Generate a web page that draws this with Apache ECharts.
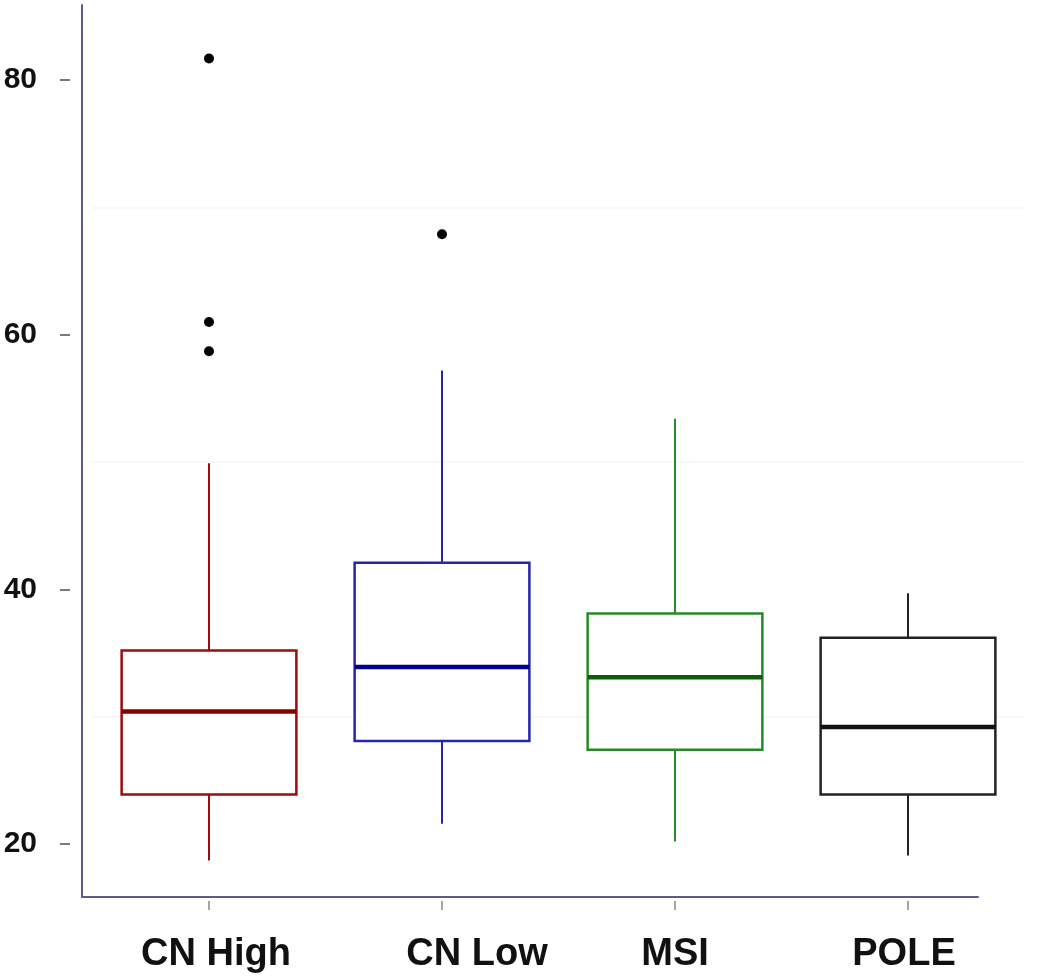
<!DOCTYPE html>
<html>
<head>
<meta charset="utf-8">
<script src="https://cdn.jsdelivr.net/npm/echarts@6/dist/echarts.min.js"></script>
<style>
  html, body { margin: 0; padding: 0; background: #fff; }
  #chart { width: 1050px; height: 978px; }
</style>
</head>
<body>
<div id="chart"></div>
<script>
// ---- data ----
const categories = ['CN High', 'CN Low', 'MSI', 'POLE'];
// [low whisker, Q1, median, Q3, high whisker]
const lowWhisker  = [18.7, 21.6, 20.2, 19.1];
const q1Values    = [23.9, 28.1, 27.4, 23.9];
const medians     = [30.4, 33.9, 33.1, 29.2];
const q3Values    = [35.2, 42.1, 38.1, 36.2];
const highWhisker = [49.9, 57.2, 53.4, 39.7];
const outliers = [
  ['CN High', 81.7], ['CN High', 61.0], ['CN High', 58.7],
  ['CN Low', 67.9]
];
const yTickValues = [20, 40, 60, 80];
const gridValues = [30, 50, 70];

// ---- styles ----
const boxColors = ['#9e0b0b', '#2626ad', '#268a26', '#222222'];
const medianColors = ['#870000', '#00008b', '#0a5e0a', '#111111'];
const labelShift = [7, 35, 0, -4]; // horizontal nudge of each x label, px
const Y_MIN = 15.84, Y_MAX = 85.9;
const FONT = '"Liberation Sans", Arial, Helvetica, sans-serif';

const boxData = categories.map((c, i) => [i, lowWhisker[i], q1Values[i], medians[i], q3Values[i], highWhisker[i]]);

const richStyles = {};
labelShift.forEach((s, i) => {
  richStyles['l' + i] = {
    fontFamily: FONT, fontWeight: 'bold', fontSize: 38, color: '#111',
    padding: s >= 0 ? [0, 0, 0, 2 * s] : [0, -2 * s, 0, 0]
  };
});

const chart = echarts.init(document.getElementById('chart'), null, { renderer: 'canvas' });

chart.setOption({
  backgroundColor: '#ffffff',
  animation: false,
  grid: [
    { left: 92.5, right: 25.5, top: 5, bottom: 81 },
    { left: 82, right: 72, top: 5, bottom: 81 }
  ],
  xAxis: [
    {
      type: 'category', gridIndex: 0, data: categories, boundaryGap: true,
      offset: 4,
      axisLine: { show: false },
      axisTick: { show: true, interval: 0, alignWithLabel: true, length: 9, lineStyle: { color: '#888', width: 1.5 } },
      axisLabel: {
        interval: 0, hideOverlap: false,
        margin: 35, fontFamily: FONT, fontWeight: 'bold', fontSize: 38, color: '#111',
        formatter: function (v, i) { return '{l' + i + '|' + v + '}'; },
        rich: richStyles
      },
      splitLine: { show: false }
    },
    {
      type: 'value', gridIndex: 1, min: 0, max: 1,
      axisLine: { show: true, lineStyle: { color: '#5b5b8f', width: 2 } },
      axisTick: { show: false }, axisLabel: { show: false }, splitLine: { show: false }
    }
  ],
  yAxis: [
    {
      type: 'value', gridIndex: 0, min: Y_MIN, max: Y_MAX,
      offset: 22.5,
      axisLine: { show: false },
      axisTick: { show: true, length: 10, customValues: yTickValues, lineStyle: { color: '#7a7a7a', width: 2 } },
      axisLabel: { customValues: yTickValues, margin: 33, fontFamily: FONT, fontWeight: 'bold', fontSize: 30, color: '#111' },
      splitLine: { show: false }
    },
    {
      type: 'value', gridIndex: 1, min: Y_MIN, max: Y_MAX,
      axisLine: { show: true, lineStyle: { color: '#5b5b8f', width: 2 } },
      axisTick: { show: false }, axisLabel: { show: false }, splitLine: { show: false }
    }
  ],
  series: [
    {
      type: 'custom',
      xAxisIndex: 0, yAxisIndex: 0,
      data: boxData,
      z: 5,
      renderItem: function (params, api) {
        const idx = api.value(0);
        const low = api.coord([idx, api.value(1)]);
        const q1 = api.coord([idx, api.value(2)]);
        const med = api.coord([idx, api.value(3)]);
        const q3 = api.coord([idx, api.value(4)]);
        const high = api.coord([idx, api.value(5)]);
        const bw = api.size([1, 0])[0] * 0.75;
        const cx = med[0];
        const col = boxColors[params.dataIndex];
        const mcol = medianColors[params.dataIndex];
        return {
          type: 'group',
          children: [
            { type: 'line', shape: { x1: cx, y1: high[1], x2: cx, y2: q3[1] }, style: { stroke: col, lineWidth: 2 } },
            { type: 'line', shape: { x1: cx, y1: q1[1], x2: cx, y2: low[1] }, style: { stroke: col, lineWidth: 2 } },
            { type: 'rect', shape: { x: cx - bw / 2, y: q3[1], width: bw, height: q1[1] - q3[1] }, style: { fill: '#ffffff', stroke: col, lineWidth: 2.5 } },
            { type: 'line', shape: { x1: cx - bw / 2, y1: med[1], x2: cx + bw / 2, y2: med[1] }, style: { stroke: mcol, lineWidth: 4.5 } }
          ]
        };
      }
    },
    {
      type: 'scatter',
      xAxisIndex: 0, yAxisIndex: 0,
      data: outliers,
      symbol: 'circle', symbolSize: 10,
      itemStyle: { color: '#000', opacity: 1 },
      z: 6,
      markLine: {
        silent: true, symbol: ['none', 'none'], label: { show: false },
        z: 1,
        lineStyle: { color: '#f4f4f4', width: 1.5, type: 'solid', opacity: 1 },
        data: gridValues.map(v => ({ yAxis: v }))
      }
    }
  ]
});
</script>
</body>
</html>
